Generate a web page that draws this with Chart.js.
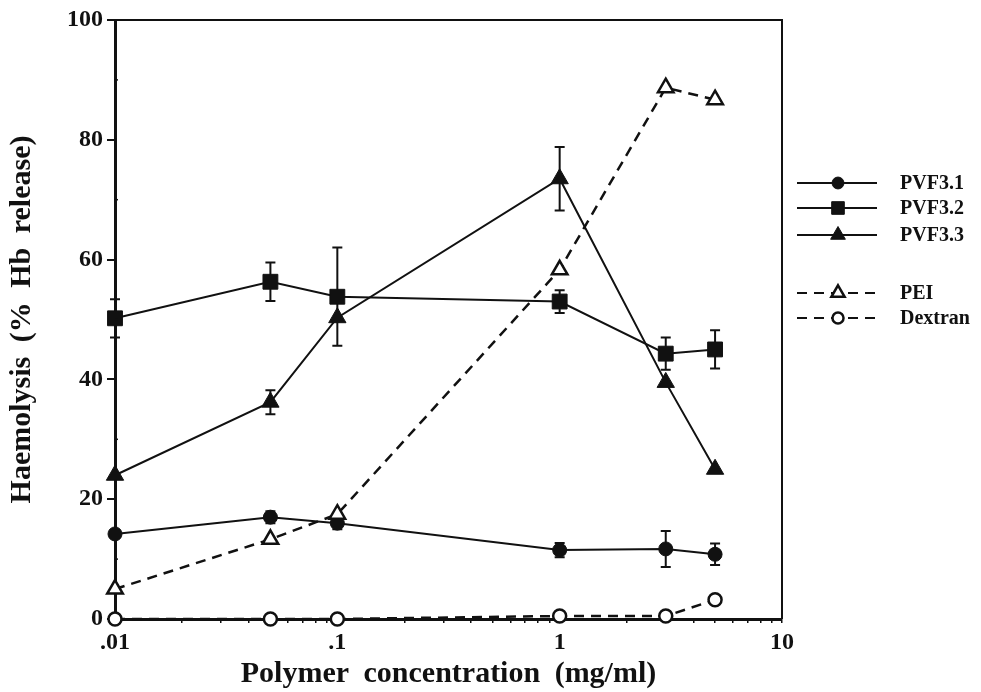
<!DOCTYPE html>
<html>
<head>
<meta charset="utf-8">
<script src="https://cdn.jsdelivr.net/npm/chart.js@4.4.1/dist/chart.umd.min.js"></script>
<style>
html,body{margin:0;padding:0;background:#fff;}
#wrap{position:relative;width:981px;height:692px;}
</style>
</head>
<body>
<div id="wrap"><canvas id="c" width="981" height="692"></canvas></div>
<script>
// ---- data ----
const concentrations = [0.01, 0.05, 0.1, 1, 3, 5];
const pvf31 = [14.2, 17, 16, 11.5, 11.7, 10.8];
const pvf31Err = [0, 1, 1, 1.2, 3, 1.8];
const pvf32 = [50.2, 56.3, 53.8, 53, 44.3, 45];
const pvf32Err = [3.2, 3.2, 8.2, 1.9, 2.7, 3.2];
const pvf33 = [24, 36.2, 50.3, 73.5, 39.5, 25];
const pvf33Err = [0, 2, 0, 5.3, 0, 0];
const pei = [5, 13.3, 17.5, 58.3, 88.7, 86.7];
const dextran = [0, 0, 0, 0.5, 0.5, 3.2];
const xTickLabels = ['.01', '.1', '1', '10'];
const xTickValues = [0.01, 0.1, 1, 10];
const yTicks = [0, 20, 40, 60, 80, 100];
const seriesNames = ['PVF3.1', 'PVF3.2', 'PVF3.3', 'PEI', 'Dextran'];

const FONT = "'Liberation Serif', 'Times New Roman', serif";

function pts(vals) { return concentrations.map((c, i) => ({x: c, y: vals[i]})); }

function ds(label, vals, errs, style, radius, filled, dashed) {
  return {
    label: label,
    data: pts(vals),
    errors: errs,
    borderColor: '#111',
    backgroundColor: filled ? '#111' : '#fff',
    pointBackgroundColor: filled ? '#111' : '#fff',
    pointBorderColor: '#111',
    pointBorderWidth: filled ? 1 : 2.5,
    pointStyle: style,
    pointRadius: radius,
    borderWidth: dashed ? 2.5 : 2,
    borderDash: dashed ? [10, 7] : [],
    tension: 0,
    clip: false,
    fill: false
  };
}

const datasets = [
  ds(seriesNames[4], dextran, null, 'circle', 6.5, false, true),
  ds(seriesNames[3], pei, null, 'triangle', 9, false, true),
  ds(seriesNames[0], pvf31, pvf31Err, 'circle', 7, true, false),
  ds(seriesNames[1], pvf32, pvf32Err, 'rect', 10.5, true, false),
  ds(seriesNames[2], pvf33, pvf33Err, 'triangle', 10, true, false)
];

const spacing = {
  id: 'spacing',
  beforeDraw(chart) { try { chart.ctx.wordSpacing = '7px'; } catch (e) {} }
};

const errorBars = {
  id: 'errorBars',
  beforeDatasetsDraw(chart) {
    const ctx = chart.ctx, xs = chart.scales.x, ys = chart.scales.y;
    ctx.save();
    ctx.strokeStyle = '#111';
    ctx.lineWidth = 2;
    chart.data.datasets.forEach(d => {
      if (!d.errors) return;
      d.data.forEach((p, i) => {
        const e = d.errors[i];
        if (!e) return;
        const px = xs.getPixelForValue(p.x);
        const y1 = ys.getPixelForValue(p.y + e), y2 = ys.getPixelForValue(p.y - e);
        ctx.beginPath();
        ctx.moveTo(px, y1); ctx.lineTo(px, y2);
        ctx.moveTo(px - 5, y1); ctx.lineTo(px + 5, y1);
        ctx.moveTo(px - 5, y2); ctx.lineTo(px + 5, y2);
        ctx.stroke();
      });
    });
    ctx.restore();
  }
};

const frame = {
  id: 'frame',
  afterDraw(chart) {
    const ctx = chart.ctx, a = chart.chartArea, ys = chart.scales.y;
    ctx.save();
    ctx.strokeStyle = '#111';
    ctx.lineWidth = 2;
    ctx.beginPath();
    ctx.moveTo(a.left, a.top); ctx.lineTo(a.right, a.top); ctx.lineTo(a.right, a.bottom);
    ctx.stroke();
    ctx.lineWidth = 1.5;
    [10, 30, 50, 70, 90].forEach(v => {
      const y = ys.getPixelForValue(v);
      ctx.beginPath(); ctx.moveTo(a.left, y); ctx.lineTo(a.left + 3, y); ctx.stroke();
    });
    ctx.restore();
  }
};

const legendPlugin = {
  id: 'customLegend',
  afterDraw(chart) {
    const ctx = chart.ctx;
    const order = [2, 3, 4, 1, 0];
    const ys = [183, 208, 235, 293, 318];
    ctx.save();
    order.forEach((di, k) => {
      const d = chart.data.datasets[di];
      const y = ys[k];
      const cx = 838;
      ctx.strokeStyle = '#111';
      ctx.lineWidth = 2;
      ctx.beginPath();
      if (d.borderDash && d.borderDash.length) {
        ctx.setLineDash([10, 7]);
        ctx.moveTo(797, y); ctx.lineTo(875, y);
      } else {
        ctx.setLineDash([]);
        ctx.moveTo(797, y); ctx.lineTo(877, y);
      }
      ctx.stroke();
      ctx.setLineDash([]);
      ctx.fillStyle = d.pointBackgroundColor;
      ctx.strokeStyle = d.pointBorderColor;
      ctx.lineWidth = d.pointBorderWidth;
      ctx.beginPath();
      const r = d.pointRadius * 0.85;
      if (d.pointStyle === 'circle') {
        ctx.arc(cx, y, r, 0, Math.PI * 2);
      } else if (d.pointStyle === 'rect') {
        const s = r * Math.SQRT1_2;
        ctx.rect(cx - s, y - s, 2 * s, 2 * s);
      } else {
        ctx.moveTo(cx, y - r);
        ctx.lineTo(cx + r * 0.866, y + r * 0.5);
        ctx.lineTo(cx - r * 0.866, y + r * 0.5);
        ctx.closePath();
      }
      ctx.fill(); ctx.stroke();
      ctx.fillStyle = '#111';
      ctx.font = "bold 20px " + FONT;
      ctx.textBaseline = 'middle';
      ctx.textAlign = 'left';
      ctx.fillText(d.label, 900, y + 1);
    });
    ctx.restore();
  }
};

new Chart(document.getElementById('c'), {
  type: 'line',
  data: { datasets: datasets },
  options: {
    responsive: false,
    animation: false,
    layout: { padding: { left: 0, top: 20, right: 199, bottom: 0 } },
    plugins: { legend: { display: false }, tooltip: { enabled: false } },
    scales: {
      x: {
        type: 'logarithmic',
        min: 0.01, max: 10,
        afterBuildTicks(scale) {
          const t = [];
          [0.01, 0.1, 1].forEach(d => { for (let m = 1; m < 10; m++) t.push({value: +(d * m).toPrecision(3)}); });
          t.push({value: 10});
          scale.ticks = t;
        },
        afterFit(scale) { scale.height = 73; },
        border: { display: true, color: '#111', width: 3 },
        grid: {
          drawOnChartArea: false, drawTicks: true, tickLength: 4,
          color: '#111', lineWidth: 1.5
        },
        ticks: {
          autoSkip: false, maxRotation: 0, padding: 5,
          color: '#111',
          font: { family: FONT, size: 24, weight: 'bold' },
          callback(v) {
            const i = xTickValues.findIndex(t => Math.abs(t - v) / t < 1e-6);
            return i >= 0 ? xTickLabels[i] : '';
          }
        },
        title: {
          display: true, text: 'Polymer concentration (mg/ml)',
          color: '#111', padding: { top: 0, bottom: 0 },
          font: { family: FONT, size: 30, weight: 'bold' }
        }
      },
      y: {
        min: 0, max: 100,
        afterBuildTicks(scale) { scale.ticks = yTicks.map(v => ({value: v})); },
        afterFit(scale) { scale.width = 115; },
        border: { display: true, color: '#111', width: 3 },
        grid: { drawOnChartArea: false, drawTicks: true, tickLength: 8, color: '#111', lineWidth: 2 },
        ticks: {
          color: '#111', padding: 4,
          font: { family: FONT, size: 24, weight: 'bold' }
        },
        title: {
          display: true, text: 'Haemolysis (% Hb release)',
          color: '#111', padding: { top: 4, bottom: 0 },
          font: { family: FONT, size: 30, weight: 'bold' }
        }
      }
    }
  },
  plugins: [spacing, errorBars, frame, legendPlugin]
});
</script>
</body>
</html>
